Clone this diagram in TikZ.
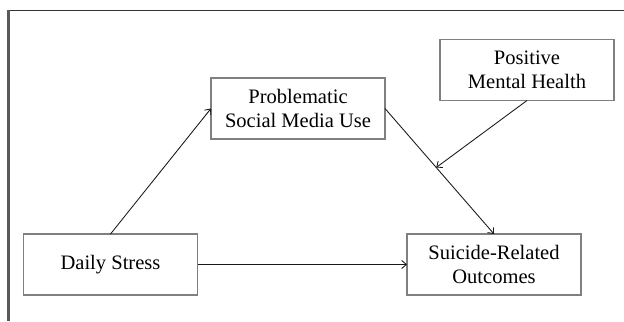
\documentclass[tikz,border=0pt]{standalone}
\usepackage{fontspec}
\setmainfont{Liberation Serif}
\usetikzlibrary{arrows.meta}
\begin{document}
\begin{tikzpicture}[x=0.75pt,y=-0.75pt,
  box/.style={draw=black!50,line width=0.8pt,minimum width=130.5pt,minimum height=45.75pt,
    inner sep=0pt,outer sep=0pt,align=center,
    font=\fontsize{15.4pt}{17.7pt}\selectfont},
  arr/.style={draw=black!90,line width=0.65pt,-{Straight Barb[length=3.5pt,width=6pt]}}]
\useasboundingbox (0,0) rectangle (624,321);
\draw[line width=0.9pt,black!80] (8.5,10.5) -- (624,10.5);
\draw[line width=1.6pt,black!65] (8.5,10) -- (8.5,321);
\node[box] (ds) at (110.5,264.5) {Daily Stress};
\node[box] (pm) at (298,108.5) {Problematic\\Social Media Use};
\node[box] (pmh) at (527,70) {Positive\\Mental Health};
\node[box] (sro) at (494,264.5) {Suicide-Related\\Outcomes};
\draw[arr] (ds.north) -- (pm.west);
\draw[arr] (pm.east) -- coordinate[pos=0.47] (mid) (sro.north);
\draw[arr] (ds.east) -- (sro.west);
\draw[arr] (pmh.south) -- (mid);
\end{tikzpicture}
\end{document}
